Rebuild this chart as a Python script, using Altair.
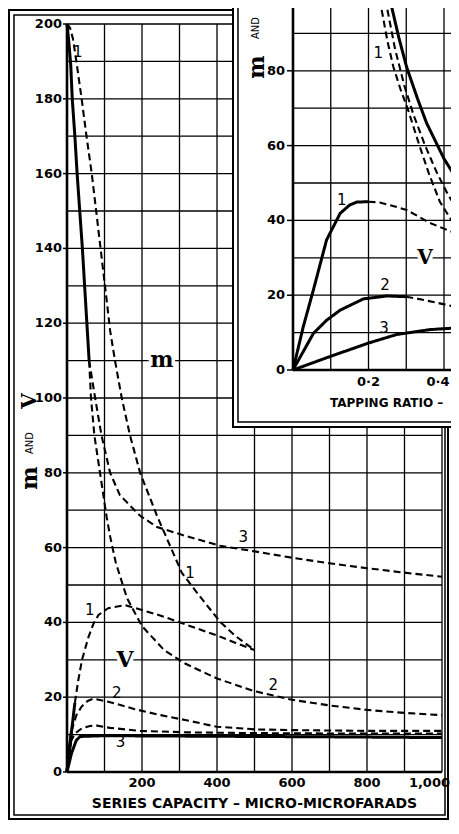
import altair as alt
import pandas as pd

# ---------------- main chart: m and V against series capacity ----------------
main_x_ticks = [0, 100, 200, 300, 400, 500, 600, 700, 800, 900, 1000]
main_y_ticks = [0, 10, 20, 30, 40, 50, 60, 70, 80, 90, 100,
                110, 120, 130, 140, 150, 160, 170, 180, 190, 200]
main_x_label_vals = [200, 400, 600, 800]
main_x_label_text = ["200", "400", "600", "800"]
main_x_last_val = [1000]
main_x_last_text = ["1,000"]
main_y_label_vals = [0, 20, 40, 60, 80, 100, 120, 140, 160, 180, 200]
main_y_label_text = ["0", "20", "40", "60", "80", "100", "120", "140", "160", "180", "200"]

# shared solid start of m curves 2 and 3
m23_start_x = [0, 5, 10, 14, 21, 27, 34, 41, 47, 53, 59]
m23_start_y = [200, 195, 189, 180, 170, 160, 150, 140, 130, 120, 110]

m1_x = [0, 8, 16, 25, 39, 52, 66, 79, 93, 106, 115, 128, 146, 168, 195, 240, 306, 350, 408, 450, 500]
m1_y = [200, 199, 196, 190, 180, 170, 160, 149, 137, 126, 118, 110, 100, 90, 80, 68.5, 53.3, 47.5, 40.2, 36.3, 32.6]

m2_x = [59, 64, 73, 88, 106, 115, 130, 160, 200, 260, 315, 400, 500, 600, 700, 800, 900, 1000]
m2_y = [110, 100, 90, 80, 68, 63, 56, 46.5, 39, 32.5, 29, 25, 21.6, 19.3, 17.8, 16.6, 15.8, 15.2]

m3_x = [59, 75, 92, 115, 141, 195, 240, 320, 408, 500, 600, 700, 800, 900, 1000]
m3_y = [110, 100, 90, 80, 74, 68.5, 65.5, 63, 60.5, 59, 57.3, 55.8, 54.5, 53.3, 52.2]

v1_start_x = [0, 10, 21]
v1_start_y = [0, 9, 18.5]
v1_x = [21, 30, 40, 57, 70, 84, 110, 155, 200, 250, 315, 408, 450, 500]
v1_y = [18.5, 24.5, 30, 36, 39.5, 42, 43.8, 44.6, 43.3, 41.8, 39.5, 36.2, 34.5, 32.6]

v2_start_x = [0, 6, 12]
v2_start_y = [0, 6, 11]
v2_x = [12, 25, 39, 55, 70, 100, 140, 181, 250, 315, 400, 460, 500, 600, 700, 800, 1000]
v2_y = [11, 15.2, 17.5, 19, 19.6, 19, 18, 16.8, 15.2, 13.9, 12.1, 11.7, 11.4, 11.2, 11.1, 11.0, 11.0]

v3_start_x = [0, 5, 10]
v3_start_y = [0, 5, 8]
v3_x = [10, 20, 40, 61, 80, 115, 195, 320, 500, 700, 1000]
v3_y = [8, 10.2, 11.7, 12.3, 12.4, 11.8, 11, 10.6, 10.4, 10.3, 10.3]

base_x = [0, 12, 25, 35, 100, 300, 500, 700, 1000]
base_y = [0, 5, 8.5, 9.5, 9.7, 9.6, 9.5, 9.4, 9.2]

main_label_text = ["1", "2", "3", "3", "1", "2", "1"]
main_label_x = [61, 133, 143, 470, 328, 550, 29]
main_label_y = [43.3, 21.1, 8.1, 62.9, 53.1, 23.3, 192.5]

main_letter_text = ["m", "V"]
main_letter_x = [253, 155]
main_letter_y = [110.2, 30]

# ---------------- inset: m and V against tapping ratio ----------------
inset_x_ticks = [0, 0.1, 0.2, 0.3, 0.4, 0.5, 0.6]
inset_y_ticks = [0, 10, 20, 30, 40, 50, 60, 70, 80, 90, 100, 110]
inset_x_label_vals = [0.2]
inset_x_label_text = ["0·2"]
inset_x_edge_val = [0.4]
inset_x_edge_text = ["0·4"]
inset_y_label_vals = [0, 20, 40, 60, 80]
inset_y_label_text = ["0", "20", "40", "60", "80"]

iv1_solid_x = [0, 0.027, 0.054, 0.089, 0.125, 0.15, 0.169, 0.2]
iv1_solid_y = [0, 11.5, 21.4, 34.8, 41.9, 44.1, 44.9, 45]
iv1_dash_x = [0.2, 0.23, 0.26, 0.301, 0.363, 0.407, 0.44, 0.5]
iv1_dash_y = [45, 44.8, 44, 42.8, 39.3, 37.5, 36.2, 33.5]

iv2_solid_x = [0, 0.054, 0.089, 0.125, 0.186, 0.248, 0.3]
iv2_solid_y = [0, 9.8, 13.3, 16, 19, 19.8, 19.6]
iv2_dash_x = [0.3, 0.328, 0.38, 0.44, 0.5]
iv2_dash_y = [19.6, 19.1, 18, 16.7, 15.5]

iv3_x = [0, 0.098, 0.2, 0.275, 0.363, 0.44, 0.5]
iv3_y = [0, 3.6, 7.2, 9.5, 10.8, 11.3, 11.5]

im_solid_x = [0.24, 0.257, 0.28, 0.301, 0.33, 0.354, 0.4, 0.44, 0.5]
im_solid_y = [105, 99, 89, 81, 72.5, 66, 56.5, 50, 43]

im_a_x = [0.22, 0.23, 0.25, 0.266, 0.285, 0.305, 0.336, 0.36, 0.389, 0.42, 0.44, 0.5]
im_a_y = [105, 99, 88, 81, 75, 69.5, 59.7, 52.5, 45, 40, 37.4, 31]

im_b_x = [0.235, 0.245, 0.27, 0.295, 0.32, 0.35, 0.38, 0.41, 0.44, 0.5]
im_b_y = [105, 99, 86, 76, 68, 60, 53, 47, 42, 35]

inset_label_text = ["1", "2", "3", "1"]
inset_label_x = [0.129, 0.244, 0.241, 0.226]
inset_label_y = [45.5, 22.7, 11.1, 84.7]

inset_letter_text = ["V"]
inset_letter_x = [0.35]
inset_letter_y = [30]


def rows(curve, style, xs, ys):
    return [{"curve": curve, "style": style, "x": a, "y": b} for a, b in zip(xs, ys)]


main_df = pd.DataFrame(
    rows("m2s", "solid", m23_start_x, m23_start_y)
    + rows("m1", "dashed", m1_x, m1_y)
    + rows("m2", "dashed", m2_x, m2_y)
    + rows("m3", "dashed", m3_x, m3_y)
    + rows("v1s", "solid", v1_start_x, v1_start_y)
    + rows("v1", "dashed", v1_x, v1_y)
    + rows("v2s", "solid", v2_start_x, v2_start_y)
    + rows("v2", "dashed", v2_x, v2_y)
    + rows("v3s", "solid", v3_start_x, v3_start_y)
    + rows("v3", "dashed", v3_x, v3_y)
    + rows("base", "solid", base_x, base_y)
)

inset_df = pd.DataFrame(
    rows("iv1s", "solid", iv1_solid_x, iv1_solid_y)
    + rows("iv1d", "dashed", iv1_dash_x, iv1_dash_y)
    + rows("iv2s", "solid", iv2_solid_x, iv2_solid_y)
    + rows("iv2d", "dashed", iv2_dash_x, iv2_dash_y)
    + rows("iv3", "solid", iv3_x, iv3_y)
    + rows("ims", "solid", im_solid_x, im_solid_y)
    + rows("ima", "dashed", im_a_x, im_a_y)
    + rows("imb", "dashed", im_b_x, im_b_y)
)

x_lo, x_hi = main_x_ticks[0], main_x_ticks[-1]
y_lo, y_hi = main_y_ticks[0], main_y_ticks[-1]
main_grid_df = pd.DataFrame(
    [{"x": g, "y": y_lo, "x2": g, "y2": y_hi} for g in main_x_ticks]
    + [{"x": x_lo, "y": g, "x2": x_hi, "y2": g} for g in main_y_ticks])
main_domain_df = pd.DataFrame([{"x": x_lo, "y": y_lo, "x2": x_lo, "y2": y_hi},
                               {"x": x_lo, "y": y_lo, "x2": x_hi, "y2": y_lo}])

ix_lo, ix_hi = inset_x_ticks[0], inset_x_ticks[-1]
iy_lo, iy_hi = inset_y_ticks[0], inset_y_ticks[-1]
inset_grid_df = pd.DataFrame(
    [{"x": g, "y": iy_lo, "x2": g, "y2": iy_hi} for g in inset_x_ticks]
    + [{"x": ix_lo, "y": g, "x2": ix_hi, "y2": g} for g in inset_y_ticks])
inset_domain_df = pd.DataFrame([{"x": ix_lo, "y": iy_lo, "x2": ix_lo, "y2": iy_hi},
                                {"x": ix_lo, "y": iy_lo, "x2": ix_hi, "y2": iy_lo}])

main_xlab_df = pd.DataFrame({"v": main_x_label_vals, "t": main_x_label_text})
main_xlast_df = pd.DataFrame({"v": main_x_last_val, "t": main_x_last_text})
main_ylab_df = pd.DataFrame({"v": main_y_label_vals, "t": main_y_label_text})
inset_xlab_df = pd.DataFrame({"v": inset_x_label_vals, "t": inset_x_label_text})
inset_xedge_df = pd.DataFrame({"v": inset_x_edge_val, "t": inset_x_edge_text})
inset_ylab_df = pd.DataFrame({"v": inset_y_label_vals, "t": inset_y_label_text})

main_labels_df = pd.DataFrame({"t": main_label_text, "x": main_label_x, "y": main_label_y})
main_letters_df = pd.DataFrame({"t": main_letter_text, "x": main_letter_x, "y": main_letter_y})
inset_labels_df = pd.DataFrame({"t": inset_label_text, "x": inset_label_x, "y": inset_label_y})
inset_letters_df = pd.DataFrame({"t": inset_letter_text, "x": inset_letter_x, "y": inset_letter_y})

one = alt.Data(values=[{}])

SANS = "DejaVu Sans"
SERIF = "DejaVu Serif"

dash_scale = alt.Scale(domain=["solid", "dashed"], range=[[1, 0], [7, 4]])
width_scale = alt.Scale(domain=["solid", "dashed"], range=[3.0, 2.1])

mx_scale = alt.Scale(domain=[0, 1000], nice=False, zero=False)
my_scale = alt.Scale(domain=[0, 200], nice=False, zero=False)
ix_scale = alt.Scale(domain=[0, 0.6], range=[226, 452.5], nice=False, zero=False)
iy_scale = alt.Scale(domain=[0, 110], range=[346, -65.4], nice=False, zero=False)


def X(field, sc):
    return alt.X(field, scale=sc, axis=None)


def Y(field, sc):
    return alt.Y(field, scale=sc, axis=None)


def fixed_text(x, y, txt, font=SANS, size=12, weight="normal", angle=0, align="center"):
    return alt.Chart(one).mark_text(font=font, fontSize=size, fontWeight=weight, angle=angle,
                                    color="black", align=align, baseline="middle").encode(
        x=alt.value(x), y=alt.value(y), text=alt.value(txt))


def line_layer(df, sx, sy):
    return alt.Chart(df).mark_line(color="black", strokeCap="butt").encode(
        x=X("x:Q", sx), y=Y("y:Q", sy),
        detail="curve:N",
        strokeDash=alt.StrokeDash("style:N", scale=dash_scale, legend=None),
        strokeWidth=alt.StrokeWidth("style:N", scale=width_scale, legend=None),
    )


def text_layer(df, sx, sy, font, size, weight="normal", halo=False):
    kw = dict(font=font, fontSize=size, fontWeight=weight, align="center", baseline="middle")
    if halo:
        m = alt.Chart(df).mark_text(fill="white", stroke="white", strokeWidth=7, **kw)
    else:
        m = alt.Chart(df).mark_text(color="black", **kw)
    return m.encode(x=X("x:Q", sx), y=Y("y:Q", sy), text="t:N")


def tick_text(df, sx=None, sy=None, fixed=None, align="center", dx=0):
    m = alt.Chart(df).mark_text(font=SANS, fontSize=13, fontWeight="bold", color="black",
                                align=align, baseline="middle", dx=dx)
    if sx is not None:
        return m.encode(x=X("v:Q", sx), y=alt.value(fixed), text="t:N")
    return m.encode(y=Y("v:Q", sy), x=alt.value(fixed), text="t:N")


# ---- main layers ----
main_grid = alt.Chart(main_grid_df).mark_rule(color="black", strokeWidth=1.3).encode(
    x=X("x:Q", mx_scale), y=Y("y:Q", my_scale), x2="x2:Q", y2="y2:Q")
main_domain = alt.Chart(main_domain_df).mark_rule(color="black", strokeWidth=2.6).encode(
    x=X("x:Q", mx_scale), y=Y("y:Q", my_scale), x2="x2:Q", y2="y2:Q")
main_yticks = alt.Chart(main_ylab_df).mark_rule(color="black", strokeWidth=1.5).encode(
    y=Y("v:Q", my_scale), x=alt.value(-4), x2=alt.value(0))

frame_outer = alt.Chart(one).mark_rect(fill="transparent", stroke="black", strokeWidth=2).encode(
    x=alt.value(-58), x2=alt.value(381), y=alt.value(-14), y2=alt.value(795))
frame_inner = alt.Chart(one).mark_rect(fill="transparent", stroke="black", strokeWidth=1.5).encode(
    x=alt.value(-53), x2=alt.value(378), y=alt.value(-9), y2=alt.value(791))

main_layer = alt.layer(
    main_grid, main_domain, main_yticks,
    tick_text(main_ylab_df, sy=my_scale, fixed=-5, align="right"),
    tick_text(main_xlab_df, sx=mx_scale, fixed=759),
    tick_text(main_xlast_df, sx=mx_scale, fixed=759, align="right", dx=8),
    frame_outer, frame_inner,
    line_layer(main_df, mx_scale, my_scale),
    text_layer(main_labels_df, mx_scale, my_scale, SANS, 15),
    text_layer(main_letters_df, mx_scale, my_scale, SERIF, 22, "bold", halo=True),
    text_layer(main_letters_df, mx_scale, my_scale, SERIF, 22, "bold"),
    fixed_text(-37.5, 377, "V", SERIF, 20, "bold", 270),
    fixed_text(-37.5, 419, "AND", SANS, 10, "normal", 270),
    fixed_text(-37.5, 454, "m", SERIF, 22, "bold", 270),
    fixed_text(187.5, 780, "SERIES  CAPACITY – MICRO-MICROFARADS", SANS, 14, "bold"),
)

# ---- inset layers ----
inset_box = alt.Chart(one).mark_rect(fill="white", stroke="black", strokeWidth=2).encode(
    x=alt.value(166), x2=alt.value(800), y=alt.value(-100), y2=alt.value(403))
inset_box_inner = alt.Chart(one).mark_rect(fill="transparent", stroke="black", strokeWidth=1.5).encode(
    x=alt.value(171), x2=alt.value(800), y=alt.value(-100), y2=alt.value(398))
inset_grid = alt.Chart(inset_grid_df).mark_rule(color="black", strokeWidth=1.3).encode(
    x=X("x:Q", ix_scale), y=Y("y:Q", iy_scale), x2="x2:Q", y2="y2:Q")
inset_domain = alt.Chart(inset_domain_df).mark_rule(color="black", strokeWidth=2.6).encode(
    x=X("x:Q", ix_scale), y=Y("y:Q", iy_scale), x2="x2:Q", y2="y2:Q")
inset_yticks = alt.Chart(inset_ylab_df).mark_rule(color="black", strokeWidth=1.5).encode(
    y=Y("v:Q", iy_scale), x=alt.value(220), x2=alt.value(226))

inset_layer = alt.layer(
    inset_box, inset_box_inner, inset_grid, inset_domain, inset_yticks,
    tick_text(inset_ylab_df, sy=iy_scale, fixed=218, align="right"),
    tick_text(inset_xlab_df, sx=ix_scale, fixed=358),
    tick_text(inset_xedge_df, sx=ix_scale, fixed=358, dx=-6),
    line_layer(inset_df, ix_scale, iy_scale),
    text_layer(inset_labels_df, ix_scale, iy_scale, SANS, 15),
    text_layer(inset_letters_df, ix_scale, iy_scale, SERIF, 20, "bold", halo=True),
    text_layer(inset_letters_df, ix_scale, iy_scale, SERIF, 20, "bold"),
    fixed_text(189, 4, "AND", SANS, 10, "normal", 270),
    fixed_text(189.5, 43, "m", SERIF, 22, "bold", 270),
    fixed_text(263, 379, "TAPPING  RATIO –", SANS, 12, "bold", 0, "left"),
)

chart = alt.layer(main_layer, inset_layer).resolve_scale(
    x="independent", y="independent"
).properties(
    width=375, height=748,
    padding={"left": 59, "top": 16, "right": 9, "bottom": 48},
    autosize=alt.AutoSizeParams(type="none"),
    background="white",
).configure_view(stroke=None)

chart.save("out.html", embed_options={"renderer": "svg", "actions": False})
